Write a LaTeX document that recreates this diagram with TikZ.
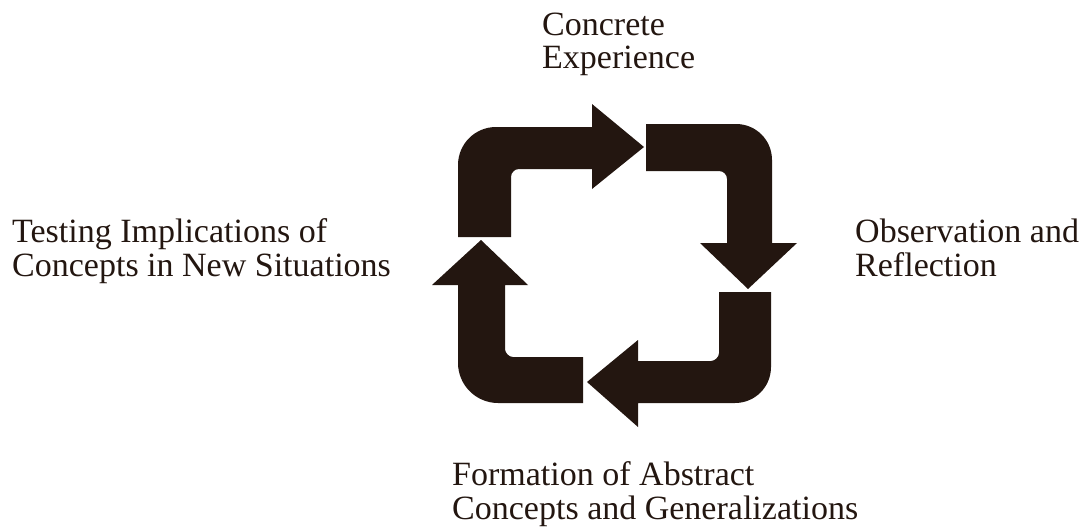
\documentclass[tikz,border=0pt]{standalone}
\usepackage{fontspec}
\setmainfont{Liberation Serif}
\definecolor{ink}{HTML}{231610}
\begin{document}
\begin{tikzpicture}[x=1pt,y=-1pt,
  label/.style={anchor=north west,inner sep=0pt,align=left,text=ink,font=\fontsize{34}{33.5}\selectfont},
  cyclearrow/.style={fill=ink,draw=none}]
\useasboundingbox (0,0) rectangle (1083,527);
% labels
\node[label] (ce) at (542,12.5) {Concrete\\Experience};
\node[label] (or) at (855,218.8) {Observation and\\Reflection};
\node[label] (fa) at (452,461.8) {Formation of Abstract\\Concepts and Generalizations};
\node[label] (ti) at (12,218.5) {Testing Implications of\\Concepts in New Situations};
% top-left arrow (towards Concrete Experience side)
\fill[cyclearrow] (458,237) -- (458,165) .. controls (458,144) and (475,127) .. (496,127)
  -- (592,127) -- (592,104) -- (644,147) -- (592,189) -- (592,169) -- (519,169)
  .. controls (514.6,169) and (511,172.6) .. (511,177) -- (511,237) -- cycle;
% top-right arrow
\fill[cyclearrow] (646,124) -- (736,124) .. controls (756,124) and (772,140) .. (772,160)
  -- (772,243) -- (797,243) -- (748,289) -- (700,243) -- (727,243) -- (727,179)
  .. controls (727,174.6) and (723.4,171) .. (719,171) -- (646,171) -- cycle;
% bottom-right arrow
\fill[cyclearrow] (719,292) -- (771,292) -- (771,367) .. controls (771,387) and (755,403) .. (735,403)
  -- (638,403) -- (638,427) -- (587,382) -- (638,340) -- (638,361) -- (711,361)
  .. controls (714.6,361) and (719,357.4) .. (719,353) -- cycle;
% bottom-left arrow
\fill[cyclearrow] (583,357) -- (583,403) -- (498,403) .. controls (476,403) and (458,385) .. (458,363)
  -- (458,285) -- (432,285) -- (481,240) -- (528,285) -- (505,285) -- (505,349)
  .. controls (505,352.6) and (508.6,357) .. (513,357) -- cycle;
\end{tikzpicture}
\end{document}
